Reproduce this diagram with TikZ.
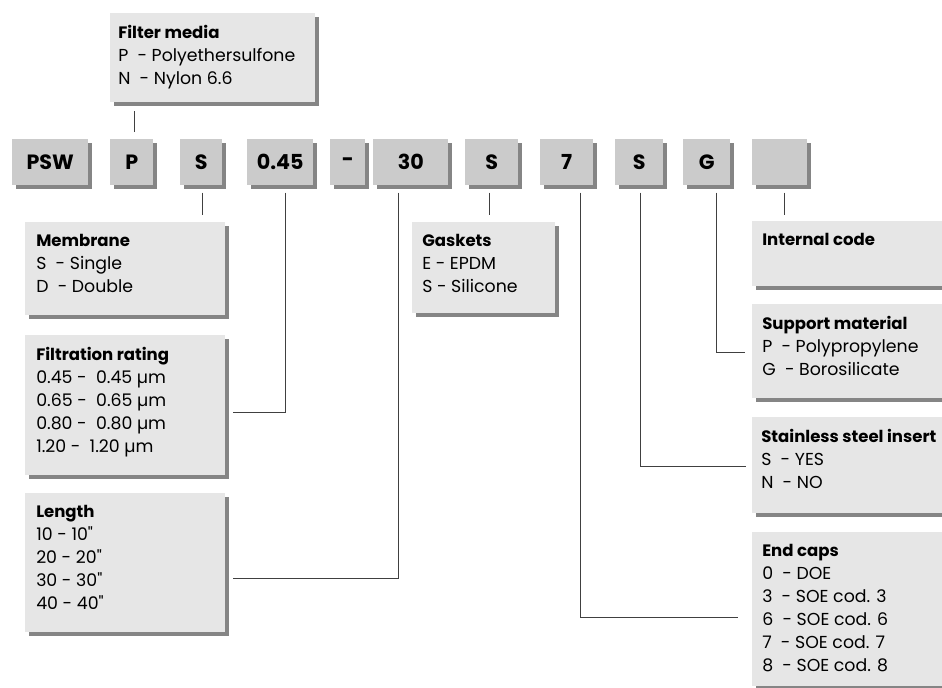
\documentclass[tikz,border=0pt]{standalone}
\usepackage{fontspec}
\setmainfont{Poppins}[Ligatures=TeXOff]
\usetikzlibrary{calc,shadows}

\definecolor{codefill}{HTML}{CBCBCB}
\definecolor{infofill}{HTML}{E6E6E6}
\definecolor{shadegray}{HTML}{858585}
\definecolor{linegray}{HTML}{404040}

\newcommand{\boxtitle}[1]{{\fontsize{12.4}{17.25}\selectfont\bfseries #1}}

\tikzset{
  bw/.style={minimum width=#1*0.75pt},
  bh/.style={minimum height=#1*0.75pt},
  codebox/.style={anchor=north west, fill=codefill, inner sep=0pt, bw=#1, bh=46,
    font=\fontsize{15.5}{18}\selectfont\bfseries,
    drop shadow={shadow xshift=3pt, shadow yshift=-3pt, fill=shadegray, opacity=1}},
  infobox/.style={anchor=north west, fill=infofill, inner sep=0pt,
    drop shadow={shadow xshift=3pt, shadow yshift=-3pt, fill=shadegray, opacity=1}},
  infotext/.style={anchor=north west, align=left, inner sep=0pt,
    font=\fontsize{13}{17.25}\selectfont},
  link/.style={draw=linegray, line width=0.75pt}
}

\begin{document}
\begin{tikzpicture}[x=0.75pt,y=0.75pt,yscale=-1,xscale=1]
\useasboundingbox (0,0) rectangle (942,687);

% code row
\node [codebox=76] (cPSW) at (12,139) {PSW};
\node [codebox=43] (cP) at (110,139) {P};
\node [codebox=42] (cS1) at (180,139) {S};
\node [codebox=66] (c045) at (247,139) {0.45};
\node [codebox=35] (cDash) at (330,139) {-};
\node [codebox=75] (c30) at (373,139) {30};
\node [codebox=53] (cS2) at (465,139) {S};
\node [codebox=53] (c7) at (540,139) {7};
\node [codebox=48] (cS3) at (615,139) {S};
\node [codebox=47] (cG) at (683,139) {G};
\node [codebox=55] (cX) at (752,139) {};

% Filter media
\node [infobox, bw=205, bh=89] (media) at (110,13) {};
\node [infotext] (mediaText) at ($(media.north west)+(8,12)$)
  {\boxtitle{Filter media}\\P\ \ - Polyethersulfone\\N\ \ - Nylon 6.6};
% Membrane
\node [infobox, bw=200, bh=93] (membrane) at (25,222) {};
\node [infotext] (membraneText) at ($(membrane.north west)+(11,12)$)
  {\boxtitle{Membrane}\\S\ \ - Single\\D\ \ - Double};
% Filtration rating
\node [infobox, bw=200, bh=140] (rating) at (25,335) {};
\node [infotext] (ratingText) at ($(rating.north west)+(11,12)$)
  {\boxtitle{Filtration rating}\\0.45 -\ \ 0.45 µm\\0.65 -\ \ 0.65 µm\\0.80 -\ \ 0.80 µm\\1.20 -\ \ 1.20 µm};
% Length
\node [infobox, bw=200, bh=139] (length) at (25,493) {};
\node [infotext] (lengthText) at ($(length.north west)+(11,12)$)
  {\boxtitle{Length}\\10 - 10"\\20 - 20"\\30 - 30"\\40 - 40"};
% Gaskets
\node [infobox, bw=143, bh=91] (gaskets) at (412,222) {};
\node [infotext] (gasketsText) at ($(gaskets.north west)+(10,12)$)
  {\boxtitle{Gaskets}\\E - EPDM\\S - Silicone};
% Internal code
\node [infobox, bw=200, bh=65] (intcode) at (752,221) {};
\node [infotext] (intcodeText) at ($(intcode.north west)+(10,12)$)
  {\boxtitle{Internal code}};
% Support material
\node [infobox, bw=200, bh=94] (support) at (752,304) {};
\node [infotext] (supportText) at ($(support.north west)+(10,12)$)
  {\boxtitle{Support material}\\P\ \ - Polypropylene\\G\ \ - Borosilicate};
% Stainless steel insert
\node [infobox, bw=200, bh=96] (insert) at (752,417) {};
\node [infotext] (insertText) at ($(insert.north west)+(9,12)$)
  {\boxtitle{Stainless steel insert}\\S\ \ - YES\\N\ \ - NO};
% End caps
\node [infobox, bw=200, bh=154] (endcaps) at (752,532) {};
\node [infotext] (endcapsText) at ($(endcaps.north west)+(10,12)$)
  {\boxtitle{End caps}\\0\ \ - DOE\\3\ \ - SOE cod. 3\\6\ \ - SOE cod. 6\\7\ \ - SOE cod. 7\\8\ \ - SOE cod. 8};

% connectors
\draw [link] ($(cP.north)+(2.5,-7)$) -- ($(cP.north |- media.south)+(2.5,8)$);
\draw [link] ($(cS1.south)+(1,7)$) -- ($(cS1.south |- membrane.north)+(1,-7)$);
\draw [link] ($(c045.south)+(5,7)$) |- ($(rating.east)+(7,7)$);
\draw [link] ($(c30.south)+(-12.5,7)$) |- ($(length.east)+(7,15.5)$);
\draw [link] ($(cS2.south)+(-2.5,7)$) -- ($(cS2.south |- gaskets.north)+(-2.5,-7)$);
\draw [link] ($(c7.south)+(13.5,7)$) |- ($(endcaps.west)+(-14,8)$);
\draw [link] ($(cS3.south)+(1,7)$) |- ($(insert.west)+(-6,1)$);
\draw [link] ($(cG.south)+(9.5,7)$) |- ($(support.west)+(-7,1)$);
\draw [link] ($(cX.south)+(4.5,7)$) -- ($(cX.south |- intcode.north)+(4.5,-6)$);

\end{tikzpicture}
\end{document}
